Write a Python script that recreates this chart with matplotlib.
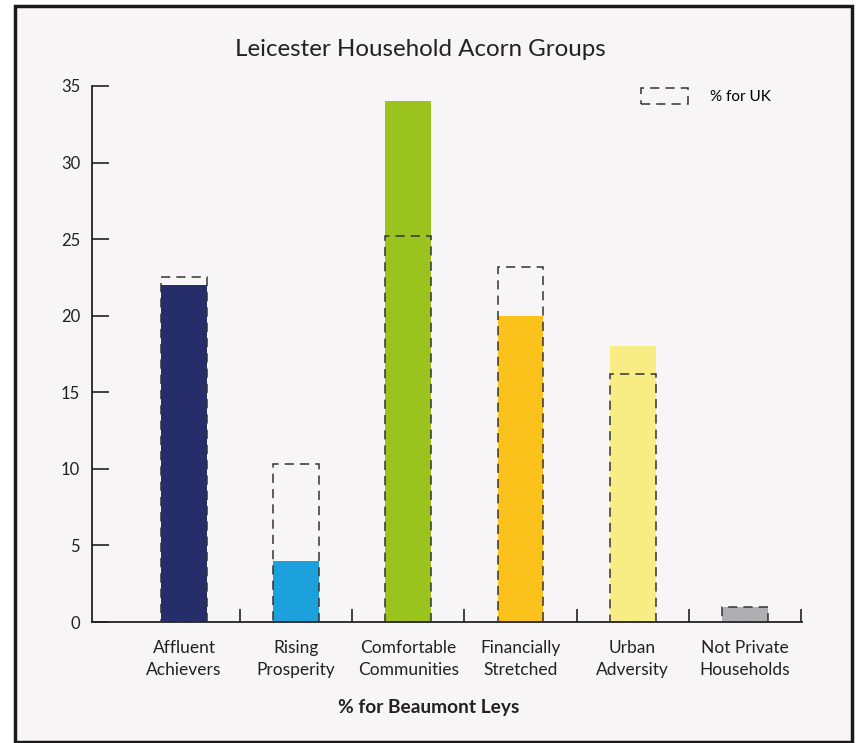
import numpy as np
import matplotlib.pyplot as plt
from matplotlib.patches import Rectangle, Patch

plt.rcParams['font.family'] = ['Lato', 'DejaVu Sans']

groups = ['Affluent\nAchievers', 'Rising\nProsperity', 'Comfortable\nCommunities',
          'Financially\nStretched', 'Urban\nAdversity', 'Not Private\nHouseholds']
local_pct = [22.0, 4.0, 34.0, 20.0, 18.0, 1.0]
uk_pct = [22.5, 10.3, 25.2, 23.2, 16.2, 1.0]
colors = ['#252e6b', '#1da1dc', '#9bc31e', '#fcc21c', '#f8ec84', '#aeafb1']

bg = '#f7f5f6'
fig = plt.figure(figsize=(8.6, 7.43), dpi=100, facecolor='white')
fig.patches.append(Rectangle((15 / 860, 1 - 742 / 743), 837 / 860, 736 / 743,
                             transform=fig.transFigure, facecolor=bg,
                             edgecolor='#1a1a1a', linewidth=2.5, zorder=-10))

ax = fig.add_axes([0.107, 0.1628, 0.8256, 0.7215])
ax.set_facecolor('none')

x = np.arange(len(groups))
w = 0.41
ax.bar(x, local_pct, width=w, color=colors, zorder=2)
ax.bar(x, uk_pct, width=w, facecolor='none', edgecolor='#333333',
       linestyle=(0, (6, 4)), linewidth=1.1, zorder=3)

ax.set_xlim(-0.82, 5.51)
ax.set_ylim(0, 35)
ax.set_yticks(range(0, 36, 5))
ax.set_xticks(x)
ax.set_xticklabels(groups, fontsize=12.5, color='#222222', linespacing=1.45)
ax.set_xticks(np.arange(0.5, 6, 1), minor=True)
ax.tick_params(axis='x', which='major', length=0, pad=13)
ax.tick_params(axis='x', which='minor', direction='in', length=9.5, width=1.2, color='#222222')
ax.tick_params(axis='y', direction='in', length=12, width=1.2, color='#222222',
               labelsize=12, labelcolor='#222222', pad=8.5)
for s in ['top', 'right']:
    ax.spines[s].set_visible(False)
for s in ['left', 'bottom']:
    ax.spines[s].set_linewidth(1.3)
    ax.spines[s].set_color('#222222')

handle = Patch(facecolor='none', edgecolor='#333333', linestyle=(0, (6, 4)), linewidth=1.1)
ax.legend([handle], ['% for UK'], loc='upper right', bbox_to_anchor=(0.975, 1.022),
          frameon=False, fontsize=11, handlelength=3.1, handleheight=1.2,
          handletextpad=1.4)

fig.text(420 / 860, 1 - 50 / 743, 'Leicester Household Acorn Groups',
         ha='center', va='center', fontsize=17.4, color='#222222')
fig.text(429 / 860, 1 - 708 / 743, '% for Beaumont Leys', ha='center', va='center',
         fontsize=13.8, fontweight='bold', color='#222222')

fig.savefig('out.png', dpi=100, facecolor='white')
